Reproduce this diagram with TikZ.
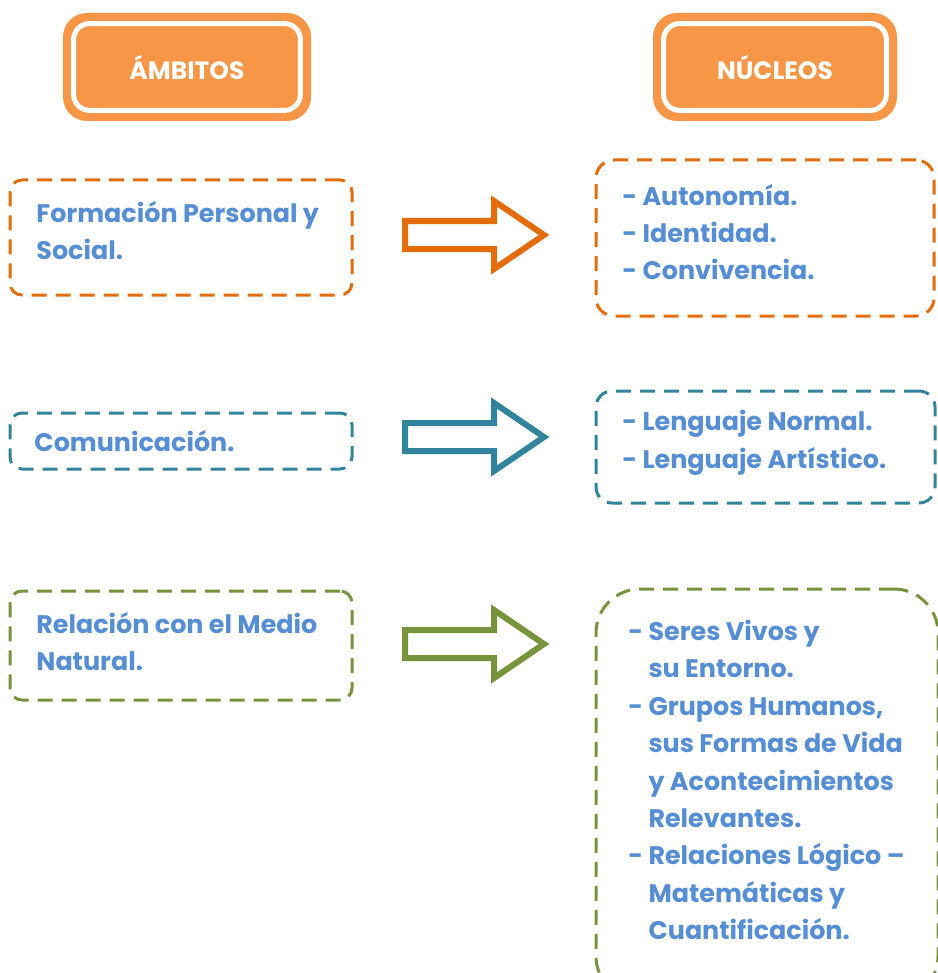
\documentclass[tikz,border=0pt]{standalone}
\usepackage{fontspec}
\setmainfont{Poppins}
\usetikzlibrary{positioning}

\definecolor{hdr}{HTML}{F79646}
\definecolor{orangeline}{HTML}{E46C0A}
\definecolor{tealline}{HTML}{31849B}
\definecolor{greenline}{HTML}{77933C}
\definecolor{txtblue}{HTML}{558ED5}

\newcommand{\hang}{\phantom{-\ }}

\tikzset{
	headbox/.style={fill=hdr, rounded corners=12pt, text=white, inner sep=0pt,
		minimum height=54pt, font=\bfseries\fontsize{12.5}{14}\selectfont},
	dashbox/.style={draw=#1, line width=1.5pt, dash pattern=on 7.5pt off 4.5pt,
		rounded corners=6pt, inner sep=0pt, minimum width=171pt},
	txt/.style={text=txtblue, align=left, inner sep=0pt, anchor=west,
		font=\bfseries\fontsize{12.7}{18.7}\selectfont},
	bigarrow/.pic={
		\draw[pic actions, line width=3pt, fill=white]
			(0,-14) -- (89,-14) -- (89,-34) -- (139,0) -- (89,34) -- (89,14) -- (0,14) -- cycle;
	}
}

\begin{document}
\begin{tikzpicture}[x=0.5pt, y=-0.5pt]
	\useasboundingbox (0,0) rectangle (937,973);

	% headers
	\node[headbox, minimum width=124pt] (amb) at (187,67) {ÁMBITOS};
	\node[headbox, minimum width=122pt] (nuc) at (775,67) {NÚCLEOS};
	\foreach \h in {amb, nuc}
		\draw[white, line width=2.5pt, rounded corners=8pt]
			([shift={(5.5pt,-5.5pt)}]\h.north west) rectangle ([shift={(-5.5pt,5.5pt)}]\h.south east);

	% ambitos
	\node[dashbox=orangeline, minimum height=57.5pt] (fps) at (181,237.5) {};
	\node[dashbox=tealline, minimum height=28pt] (com) at (181,441) {};
	\node[dashbox=greenline, minimum height=54.5pt] (rmn) at (181,645.5) {};

	\node[txt] (fpstxt) at (36,230.5) {Formación Personal y\\Social.};
	\node[txt] (comtxt) at (34,441) {Comunicación.};
	\node[txt] (rmntxt) at (36,641.5) {Relación con el Medio\\Natural.};

	% arrows
	\pic[draw=orangeline] (arr1) at (405,235) {bigarrow};
	\pic[draw=tealline] (arr2) at (405,437) {bigarrow};
	\pic[draw=greenline] (arr3) at (405,644) {bigarrow};

	% nucleos
	\node[dashbox=orangeline, minimum width=169pt, minimum height=78pt, rounded corners=9pt] (nuc1) at (765,238) {};
	\node[dashbox=tealline, minimum width=169.5pt, minimum height=56pt, rounded corners=8pt] (nuc2) at (765.5,447) {};
	\node[dashbox=greenline, minimum width=171pt, minimum height=205.5pt, rounded corners=22pt] (nuc3) at (767,794.5) {};

	\node[txt] (nuc1txt) at (622,232) {- Autonomía.\\- Identidad.\\- Convivencia.};
	\node[txt] (nuc2txt) at (622,443) {- Lenguaje Normal.\\- Lenguaje Artístico.};
	\node[txt] (nuc3txt) at (628,780) {- Seres Vivos y\\\hang su Entorno.\\- Grupos Humanos,\\\hang sus Formas de Vida\\\hang y Acontecimientos\\\hang Relevantes.\\- Relaciones Lógico –\\\hang Matemáticas y\\\hang Cuantificación.};
\end{tikzpicture}
\end{document}
